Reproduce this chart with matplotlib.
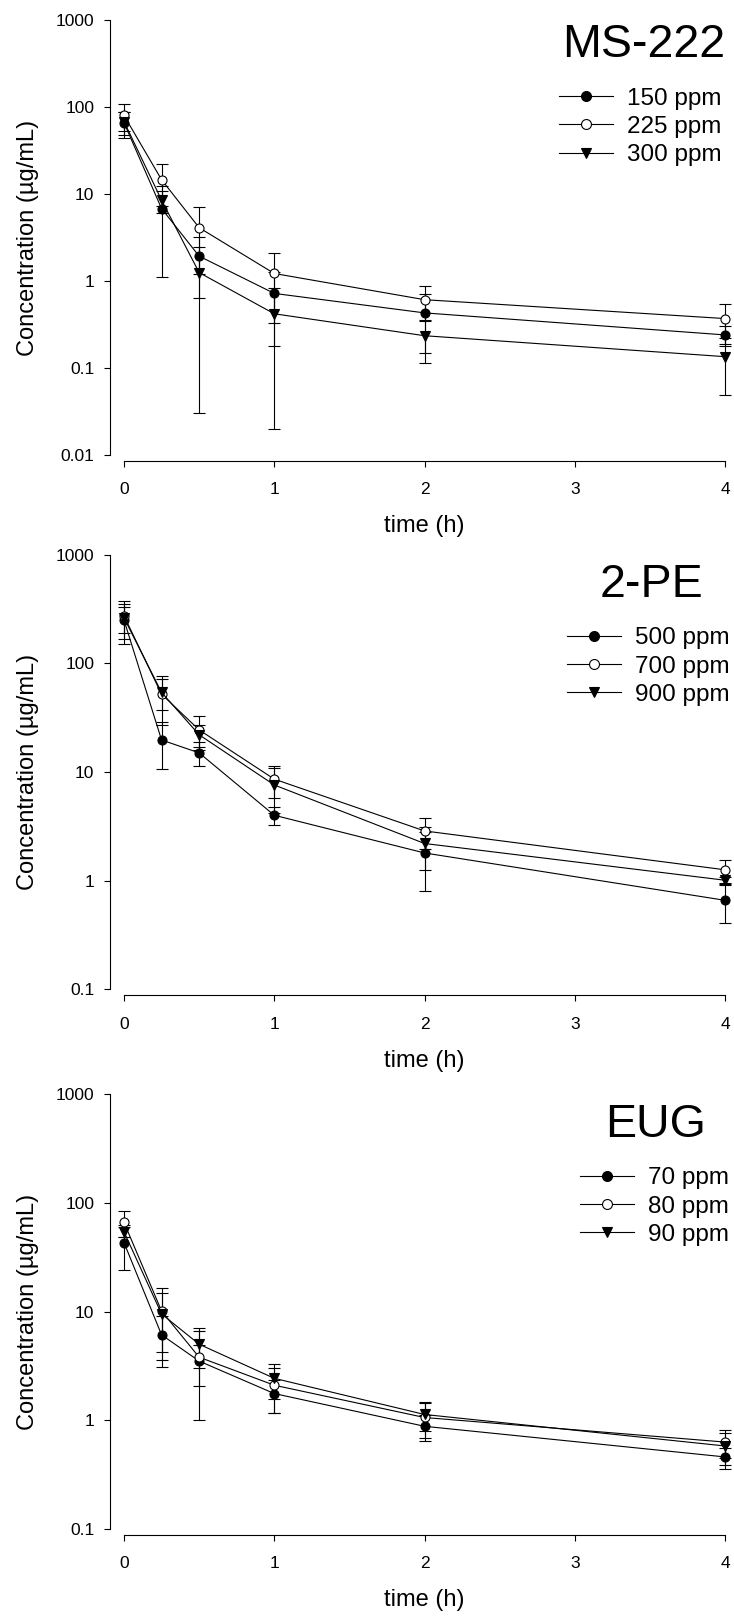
"""
    Plasma concentration vs time for three anaesthetics (log scale)
"""

import matplotlib
matplotlib.use("Agg")
import matplotlib.pyplot as plt
from matplotlib.ticker import NullLocator

plt.rcParams['font.family'] = ['Liberation Sans', 'DejaVu Sans']

# sampling times (h)
time = [0, 0.25, 0.5, 1, 2, 4]

# MS-222
ms_labels = ["150 ppm", "225 ppm", "300 ppm"]
ms_150 = [66, 6.8, 1.93, 0.72, 0.43, 0.24]
ms_150_sd = [22, 5.7, 1.3, 0.54, 0.28, 0.06]
ms_225 = [80, 14.6, 4.1, 1.22, 0.61, 0.37]
ms_225_sd = [27, 7.4, 2.9, 0.89, 0.26, 0.18]
ms_300 = [68, 8.5, 1.25, 0.42, 0.235, 0.135]
ms_300_sd = [20, 2.4, 1.22, 0.40, 0.12, 0.086]

# 2-PE
pe_labels = ["500 ppm", "700 ppm", "900 ppm"]
pe_500 = [250, 19.7, 15.0, 4.0, 1.8, 0.66]
pe_500_sd = [100, 9.0, 3.7, 0.75, 1.0, 0.25]
pe_700 = [273, 52, 24.4, 8.6, 2.87, 1.26]
pe_700_sd = [105, 25, 8.6, 2.8, 0.9, 0.30]
pe_900 = [262, 54, 22, 7.6, 2.2, 1.01]
pe_900_sd = [70, 17, 5, 3.4, 0.95, 0.08]

# EUG
eug_labels = ["70 ppm", "80 ppm", "90 ppm"]
eug_70 = [43, 6.1, 3.5, 1.76, 0.88, 0.46]
eug_70_sd = [19, 3.0, 1.45, 0.6, 0.24, 0.10]
eug_80 = [66, 10.1, 3.8, 2.1, 1.06, 0.63]
eug_80_sd = [18, 6.5, 2.8, 0.93, 0.38, 0.18]
eug_90 = [54, 9.5, 5.0, 2.43, 1.13, 0.58]
eug_90_sd = [6, 5.3, 2.0, 0.87, 0.34, 0.19]

W, H = 734, 1617
fig = plt.figure(figsize=(W / 100, H / 100), dpi=100)

# marker styles: filled circle, open circle, filled down-triangle
styles = [dict(marker='o', ms=6.5, mfc='black'),
          dict(marker='o', ms=6.5, mfc='white'),
          dict(marker='v', ms=7, mfc='black')]


def px_rect(left, top, right, bottom):
    return [left / W, 1 - bottom / H, (right - left) / W, (bottom - top) / H]


def panel(rect, ymin, series, labels, title, title_xy, legend_xy):
    ax = fig.add_axes(rect)
    handles = []
    for (y, err), sty in zip(series, styles):
        ax.errorbar(time, y, yerr=err, fmt='none', ecolor='black',
                    elinewidth=0.8, capsize=4.3, capthick=0.8,
                    zorder=2, clip_on=False)
    for (y, err), lab, sty in zip(series, labels, styles):
        h, = ax.plot(time, y, color='black', lw=0.8, mec='black', mew=0.8,
                     label=lab, zorder=3, clip_on=False, **sty)
        handles.append(h)

    ax.set_yscale('log')
    ax.set_xlim(0, 4)
    ax.set_ylim(ymin, 1000)

    ticks = [t for t in [0.01, 0.1, 1, 10, 100, 1000] if t >= ymin]
    ax.set_yticks(ticks)
    ax.set_yticklabels(['%g' % t for t in ticks])
    ax.yaxis.set_minor_locator(NullLocator())
    ax.set_xticks([0, 1, 2, 3, 4])

    for s in ['top', 'right']:
        ax.spines[s].set_visible(False)
    ax.spines['left'].set_position(('outward', 10))
    ax.spines['bottom'].set_position(('outward', 4.3))
    for s in ['left', 'bottom']:
        ax.spines[s].set_linewidth(0.8)

    ax.tick_params(axis='both', direction='out', length=4.3, width=0.8,
                   labelsize=12.5)
    ax.tick_params(axis='y', pad=7)
    ax.tick_params(axis='x', pad=11)

    ax.set_xlabel("time (h)", fontsize=17, labelpad=13)
    ax.set_ylabel("Concentration (µg/mL)", fontsize=17, labelpad=12)

    fig.text(title_xy[0] / W, 1 - title_xy[1] / H, title, fontsize=33.5,
             ha='left', va='baseline')

    ax.legend(handles=handles, loc='center left',
              bbox_to_anchor=(legend_xy[0] / W, 1 - legend_xy[1] / H),
              bbox_transform=fig.transFigure, frameon=False, fontsize=17.5,
              handlelength=2.22, handletextpad=0.58, labelspacing=0.26,
              borderpad=0, borderaxespad=0, markerscale=1.1)
    return ax


panel(px_rect(124, 20, 725, 455), 0.01,
      [(ms_150, ms_150_sd), (ms_225, ms_225_sd), (ms_300, ms_300_sd)],
      ms_labels, "MS-222", (562, 57), (559, 127))

panel(px_rect(124, 554.6, 725, 989.4), 0.1,
      [(pe_500, pe_500_sd), (pe_700, pe_700_sd), (pe_900, pe_900_sd)],
      pe_labels, "2-PE", (600, 597), (567, 666.5))

panel(px_rect(124, 1094, 725, 1529), 0.1,
      [(eug_70, eug_70_sd), (eug_80, eug_80_sd), (eug_90, eug_90_sd)],
      eug_labels, "EUG", (605, 1137), (580, 1206.5))

fig.savefig("out.png", dpi=100)
